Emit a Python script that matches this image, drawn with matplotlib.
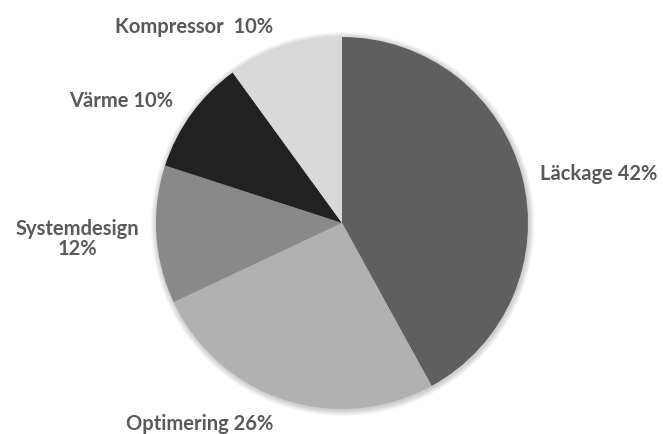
import matplotlib
matplotlib.use("Agg")
import matplotlib.pyplot as plt
from matplotlib.patches import Circle

categories = ["Läckage", "Optimering", "Systemdesign", "Värme", "Kompressor"]
values = [42, 26, 12, 10, 10]
labels = ["Läckage 42%", "Optimering 26%", "Systemdesign\n12%", "Värme 10%", "Kompressor  10%"]
colors = ["#5f5f5f", "#b1b1b1", "#898989", "#212121", "#d9d9d9"]

W, H = 663, 435
fig = plt.figure(figsize=(W / 100, H / 100), dpi=100)
cx, cy, r = 342, 224, 186
pad = 1.05
ax = fig.add_axes([(cx - r * pad) / W, (H - cy - r * pad) / H, 2 * r * pad / W, 2 * r * pad / H])

# soft shadow
for i in range(8):
    ax.add_patch(Circle((0.004, -0.006), 1 + 0.004 * (i + 1), color="black",
                        alpha=0.025, lw=0, zorder=0))

ax.pie(values, colors=colors, startangle=90, counterclock=False, radius=1,
       wedgeprops=dict(linewidth=0), center=(0, 0), frame=False)
ax.set_xlim(-pad, pad)
ax.set_ylim(-pad, pad)
ax.set_aspect("equal")
ax.axis("off")

label_pos = [(599, 174), (200, 424), (77, 239), (121, 101), (194, 27)]
for lab, (px, py) in zip(labels, label_pos):
    fig.text(px / W, 1 - py / H, lab, ha="center", va="center",
             fontsize=14.5, fontweight="bold", color="#595959",
             family=["Lato", "DejaVu Sans"], linespacing=1.0)

fig.savefig("out.png", dpi=100)
